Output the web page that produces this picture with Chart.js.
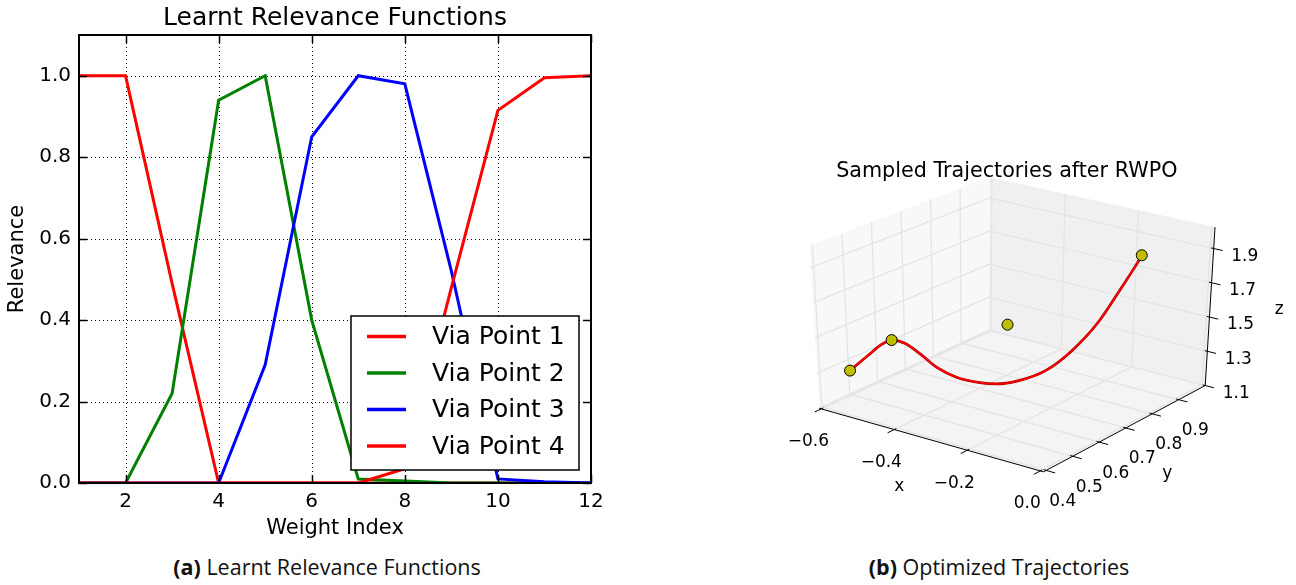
<!DOCTYPE html>
<html lang="en">
<head>
<meta charset="UTF-8" />
<title>Learnt Relevance Functions / Optimized Trajectories</title>

<!-- Chart.js -->
<script src="https://cdn.jsdelivr.net/npm/chart.js@4.4.0/dist/chart.umd.min.js"></script>

<style>
  body { margin: 0; background: #fff; width: 1296px; height: 585px; position: relative; overflow: hidden; }
  #relevance { position: absolute; left: 0; top: 0; }
  #traj { position: absolute; left: 648px; top: 0; }
  .caption {
    position: absolute; top: 552px; transform: translateX(-50%); white-space: nowrap;
    font-family: 'Open Sans', sans-serif; font-size: 21.5px; color: #111;
  }
</style>
</head>
<body>

<canvas id="relevance" width="640" height="545"></canvas>
<canvas id="traj" width="648" height="545"></canvas>
<div class="caption" style="left:327px"><b>(a)</b> Learnt Relevance Functions</div>
<div class="caption" style="left:999px"><b>(b)</b> Optimized Trajectories</div>

<script>
  // ---- relevance per weight index ----
  const weightIndex = [1, 2, 3, 4, 5, 6, 7, 8, 9, 10, 11, 12];
  const viaPoint1 = [1.0, 1.0, 0.49, 0.0, 0.0, 0.0, 0.0, 0.0, 0.0, 0.0, 0.0, 0.0];
  const viaPoint2 = [0.0, 0.0, 0.22, 0.94, 1.0, 0.40, 0.01, 0.005, 0.0, 0.0, 0.0, 0.0];
  const viaPoint3 = [0.0, 0.0, 0.0, 0.0, 0.29, 0.85, 1.0, 0.98, 0.52, 0.01, 0.003, 0.0];
  const viaPoint4 = [0.0, 0.0, 0.0, 0.0, 0.0, 0.0, 0.0, 0.035, 0.48, 0.915, 0.995, 1.0];
  const indexTicks = [2, 4, 6, 8, 10, 12];
  const relevanceTicks = [0.0, 0.2, 0.4, 0.6, 0.8, 1.0];

  // ---- sampled trajectory and via points (x, y, z) ----
  const trajX = [-0.594, -0.548, -0.515, -0.492, -0.464, -0.436, -0.408, -0.377, -0.337, -0.315, -0.282, -0.240, -0.199, -0.156, -0.129, -0.106, -0.104];
  const trajY = [0.49, 0.50, 0.505, 0.51, 0.52, 0.54, 0.56, 0.59, 0.62, 0.65, 0.69, 0.73, 0.77, 0.81, 0.85, 0.88, 0.89];
  const trajZ = [1.25, 1.36, 1.435, 1.468, 1.458, 1.394, 1.321, 1.26, 1.23, 1.212, 1.219, 1.267, 1.371, 1.533, 1.705, 1.855, 1.887];
  const viaX = [-0.594, -0.492, -0.261, -0.104];
  const viaY = [0.49, 0.51, 0.62, 0.89];
  const viaZ = [1.25, 1.468, 1.603, 1.887];
  const xTicks = [-0.6, -0.4, -0.2, 0.0];
  const yTicks = [0.4, 0.5, 0.6, 0.7, 0.8, 0.9];
  const zTicks = [1.1, 1.3, 1.5, 1.7, 1.9];
  const X_LIM = [-0.606, 0.009];
  const Y_LIM = [0.39, 1.0];
  const Z_LIM = [1.1, 2.025];

  Chart.defaults.font.family = "'DejaVu Sans', sans-serif";
  Chart.defaults.color = '#000';

  // dotted grid, inward ticks, frame and boxed legend for the 2d plot
  const relevanceDecor = {
    id: 'relevanceDecor',
    beforeDatasetsDraw(chart) {
      const { ctx, chartArea: a, scales: { x, y } } = chart;
      ctx.save();
      ctx.strokeStyle = '#000';
      ctx.lineWidth = 1;
      ctx.setLineDash([1, 3]);
      ctx.beginPath();
      indexTicks.forEach(v => {
        const px = Math.round(x.getPixelForValue(v)) + 0.5;
        ctx.moveTo(px, a.top); ctx.lineTo(px, a.bottom);
      });
      relevanceTicks.forEach(v => {
        const py = Math.round(y.getPixelForValue(v)) + 0.5;
        ctx.moveTo(a.left, py); ctx.lineTo(a.right, py);
      });
      ctx.stroke();
      ctx.restore();
    },
    afterDatasetsDraw(chart) {
      const { ctx, chartArea: a, scales: { x, y } } = chart;
      ctx.save();
      ctx.strokeStyle = '#000';
      ctx.lineWidth = 1.5;
      ctx.beginPath();
      indexTicks.forEach(v => {
        const px = Math.round(x.getPixelForValue(v)) + 0.5;
        ctx.moveTo(px, a.bottom); ctx.lineTo(px, a.bottom - 8);
        ctx.moveTo(px, a.top); ctx.lineTo(px, a.top + 8);
      });
      relevanceTicks.forEach(v => {
        const py = Math.round(y.getPixelForValue(v)) + 0.5;
        ctx.moveTo(a.left, py); ctx.lineTo(a.left + 8, py);
        ctx.moveTo(a.right, py); ctx.lineTo(a.right - 8, py);
      });
      ctx.stroke();
      ctx.lineWidth = 2;
      ctx.strokeRect(a.left, a.top, a.right - a.left, a.bottom - a.top);

      // legend box in the lower right corner
      const w = 228, h = 154;
      const bx = a.right - 12 - w, by = a.bottom - 13 - h;
      ctx.fillStyle = '#fff';
      ctx.fillRect(bx, by, w, h);
      ctx.lineWidth = 1.5;
      ctx.strokeRect(bx, by, w, h);
      ctx.font = "25px 'DejaVu Sans'";
      ctx.textBaseline = 'middle';
      chart.data.datasets.forEach((ds, i) => {
        const ry = by + 20.5 + i * 36.5;
        ctx.strokeStyle = ds.borderColor;
        ctx.lineWidth = 3.5;
        ctx.beginPath();
        ctx.moveTo(bx + 16, ry); ctx.lineTo(bx + 55, ry);
        ctx.stroke();
        ctx.fillStyle = '#000';
        ctx.fillText(ds.label, bx + 81, ry + 1);
      });
      ctx.restore();
    }
  };

  const series = [viaPoint1, viaPoint2, viaPoint3, viaPoint4];
  const seriesColors = ['#ff0000', '#008000', '#0000ff', '#ff0000'];

  new Chart(document.getElementById('relevance'), {
    type: 'line',
    data: {
      datasets: series.map((s, i) => ({
        label: 'Via Point ' + (i + 1),
        data: weightIndex.map((w, j) => ({ x: w, y: s[j] })),
        borderColor: seriesColors[i],
        borderWidth: 3,
        pointRadius: 0,
        tension: 0,
        order: series.length - i
      }))
    },
    options: {
      responsive: false,
      animation: false,
      layout: { padding: { left: 0, right: 49, top: 0, bottom: 0 } },
      plugins: {
        legend: { display: false },
        tooltip: { enabled: false },
        title: {
          display: true,
          fullSize: false,
          text: 'Learnt Relevance Functions',
          color: '#000',
          font: { size: 25, weight: 'normal' },
          padding: { top: 3, bottom: 2 }
        }
      },
      scales: {
        x: {
          type: 'linear',
          min: 1, max: 12,
          afterBuildTicks: s => { s.ticks = indexTicks.map(v => ({ value: v })); },
          afterFit: s => { s.height = 62; },
          grid: { display: false, drawTicks: false },
          border: { display: false },
          ticks: { font: { size: 20 }, padding: 7, maxRotation: 0 },
          title: { display: true, text: 'Weight Index', font: { size: 21 }, padding: { top: 0, bottom: 4 } }
        },
        y: {
          type: 'linear',
          min: 0, max: 1.1,
          afterBuildTicks: s => { s.ticks = relevanceTicks.map(v => ({ value: v })); },
          afterFit: s => { s.width = 79; },
          grid: { display: false, drawTicks: false },
          border: { display: false },
          ticks: { font: { size: 20 }, padding: 8, callback: v => v.toFixed(1) },
          title: { display: true, text: 'Relevance', font: { size: 21 }, padding: { top: 5, bottom: 0 } }
        }
      }
    },
    plugins: [relevanceDecor]
  });

  // projected corners of the 3d axes box, keyed by (x, y, z) end: 0 = low, 1 = high
  const BOX = {
    '000': [816, 411.6], '100': [1045, 476.7], '010': [989.3, 331.7], '110': [1210, 388.3],
    '001': [806, 245],   '101': [1047.6, 304.5], '011': [990, 175],   '111': [1220, 226]
  };

  function project(x, y, z) {
    const u = (x - X_LIM[0]) / (X_LIM[1] - X_LIM[0]);
    const v = (y - Y_LIM[0]) / (Y_LIM[1] - Y_LIM[0]);
    const w = (z - Z_LIM[0]) / (Z_LIM[1] - Z_LIM[0]);
    const lerp = (a, b, t) => a + (b - a) * t;
    const at = i => lerp(
      lerp(lerp(BOX['000'][i], BOX['100'][i], u), lerp(BOX['010'][i], BOX['110'][i], u), v),
      lerp(lerp(BOX['001'][i], BOX['101'][i], u), lerp(BOX['011'][i], BOX['111'][i], u), v),
      w);
    return { x: at(0), y: at(1) };
  }

  // panes, grid, axes and labels of the 3d box
  const boxDecor = {
    id: 'boxDecor',
    beforeDatasetsDraw(chart) {
      const { ctx, scales: { x: sx, y: sy } } = chart;
      const pt = (x, y, z) => {
        const p = project(x, y, z);
        return [sx.getPixelForValue(p.x), sy.getPixelForValue(p.y)];
      };
      const [x0, x1] = X_LIM, [y0, y1] = Y_LIM, [z0, z1] = Z_LIM;
      const poly = (pts, fill) => {
        ctx.beginPath();
        pts.forEach((p, i) => i ? ctx.lineTo(p[0], p[1]) : ctx.moveTo(p[0], p[1]));
        ctx.closePath();
        ctx.fillStyle = fill;
        ctx.fill();
      };
      const path = pts => {
        pts.forEach((p, i) => i ? ctx.lineTo(p[0], p[1]) : ctx.moveTo(p[0], p[1]));
      };
      ctx.save();
      poly([pt(x0, y0, z0), pt(x0, y1, z0), pt(x0, y1, z1), pt(x0, y0, z1)], '#f8f8f8');
      poly([pt(x0, y1, z0), pt(x1, y1, z0), pt(x1, y1, z1), pt(x0, y1, z1)], '#f0f0f0');
      poly([pt(x0, y0, z0), pt(x1, y0, z0), pt(x1, y1, z0), pt(x0, y1, z0)], '#f4f4f4');

      ctx.strokeStyle = '#e4e4e4';
      ctx.lineWidth = 1.3;
      ctx.beginPath();
      xTicks.forEach(v => path([pt(v, y0, z0), pt(v, y1, z0), pt(v, y1, z1)]));
      yTicks.forEach(v => path([pt(x1, v, z0), pt(x0, v, z0), pt(x0, v, z1)]));
      zTicks.forEach(v => path([pt(x0, y0, v), pt(x0, y1, v), pt(x1, y1, v)]));
      ctx.stroke();

      // axis lines and tick marks
      ctx.strokeStyle = '#000';
      ctx.lineWidth = 1;
      ctx.beginPath();
      path([pt(x0, y0, z0), pt(x1, y0, z0), pt(x1, y1, z0), pt(x1, y1, z1)]);
      const dy = (y1 - y0) * 0.04, dx = (x1 - x0) * 0.04;
      xTicks.forEach(v => path([pt(v, y0 + dy * 0.3, z0), pt(v, y0 - dy, z0)]));
      yTicks.forEach(v => path([pt(x1 - dx * 0.3, v, z0), pt(x1 + dx, v, z0)]));
      zTicks.forEach(v => path([pt(x1 - dx * 0.3, y1, v), pt(x1 + dx, y1, v)]));
      ctx.stroke();

      ctx.fillStyle = '#000';
      ctx.textAlign = 'center';
      ctx.textBaseline = 'middle';
      ctx.font = "17px 'DejaVu Sans'";
      const label = (p, dxp, dyp, text) => ctx.fillText(text, p[0] + dxp, p[1] + dyp);
      const fmt = v => (v < 0 ? '\u2212' : '') + Math.abs(v).toFixed(1);
      xTicks.forEach(v => label(pt(v, y0, z0), -13, 33, fmt(v)));
      yTicks.forEach(v => label(pt(x1, v, z0), 16.5, 31, fmt(v)));
      zTicks.forEach(v => label(pt(x1, y1, v), 31, 8, fmt(v)));
      label(pt((x0 + x1) / 2, y0, z0), -32, 47, 'x');
      label(pt(x1, (y0 + y1) / 2, z0), 43, 45, 'y');
      label(pt(x1, y1, (z0 + z1) / 2), 69, 3, 'z');

      ctx.font = "20.7px 'DejaVu Sans'";
      ctx.fillText('Sampled Trajectories after RWPO', sx.getPixelForValue(1007.5), sy.getPixelForValue(169));
      ctx.restore();
    }
  };

  const trajPoints = trajX.map((x, i) => project(x, trajY[i], trajZ[i]));
  const viaPoints = viaX.map((x, i) => project(x, viaY[i], viaZ[i]));

  new Chart(document.getElementById('traj'), {
    type: 'scatter',
    data: {
      datasets: [
        {
          data: viaPoints,
          pointRadius: 5.5,
          pointBackgroundColor: '#bfbf00',
          pointBorderColor: '#000',
          pointBorderWidth: 1
        },
        {
          data: trajPoints,
          showLine: true,
          borderColor: '#ff0000',
          borderWidth: 1.8,
          pointRadius: 0,
          cubicInterpolationMode: 'monotone'
        },
        {
          data: trajPoints,
          showLine: true,
          borderColor: '#9a0000',
          borderWidth: 2.7,
          pointRadius: 0,
          cubicInterpolationMode: 'monotone'
        }
      ]
    },
    options: {
      responsive: false,
      animation: false,
      layout: { padding: 0 },
      plugins: { legend: { display: false }, tooltip: { enabled: false } },
      scales: {
        x: { type: 'linear', display: false, min: 648, max: 1296 },
        y: { type: 'linear', display: false, min: 0, max: 545, reverse: true }
      }
    },
    plugins: [boxDecor]
  });
</script>
</body>
</html>
